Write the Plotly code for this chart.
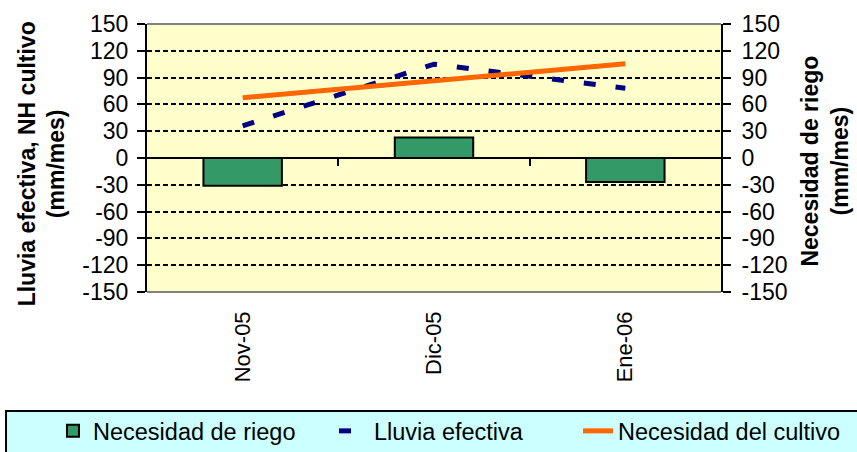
import plotly.graph_objects as go

# Monthly values (mm/mes)
months = ["Nov-05", "Dic-05", "Ene-06"]
necesidad_riego = [-31, 23, -27]
lluvia_efectiva = [36, 105, 78]
necesidad_cultivo = [67.5, 86, 105.5]

y_ticks = [-150, -120, -90, -60, -30, 0, 30, 60, 90, 120, 150]
y_tick_text = [str(v) for v in y_ticks]
boundary_ticks = [0.5, 1.5]

FONT = "Liberation Sans, Arial, sans-serif"

fig = go.Figure()

fig.add_trace(go.Bar(
    x=months, y=necesidad_riego, name="Necesidad de riego",
    marker=dict(color="#339966", line=dict(color="black", width=2)),
    yaxis="y2", legendwidth=236, legend="legend",
))
fig.add_trace(go.Scatter(
    x=months, y=lluvia_efectiva, name="Lluvia efectiva", mode="lines",
    line=dict(color="#000080", width=5, dash="12px,20px"),
    legend="legend",
))
fig.add_trace(go.Scatter(
    x=months, y=necesidad_cultivo, name="Necesidad del cultivo", mode="lines",
    line=dict(color="#FF6600", width=5), legend="legend2",
))

axis_common = dict(
    range=[-150, 150], tickvals=y_ticks, ticktext=y_tick_text,
    ticks="outside", ticklen=8, tickwidth=2, tickcolor="black",
    showline=True, linecolor="black", linewidth=2,
    tickfont=dict(family=FONT, size=23, color="black"),
)

legend_common = dict(
    orientation="h", xanchor="left", y=-0.519, yanchor="middle",
    bgcolor="rgba(0,0,0,0)", itemwidth=30,
    font=dict(family=FONT, size=23.5, color="black"),
)

fig.update_layout(
    width=857, height=452,
    margin=dict(l=147, r=136, t=24, b=160, autoexpand=False),
    paper_bgcolor="white", plot_bgcolor="#FFFFCC",
    font=dict(family=FONT, size=22, color="black"),
    bargap=0.59,
    xaxis=dict(
        type="category", showline=False, ticks="", showgrid=False,
        tickangle=-90, ticklabelstandoff=14,
        tickfont=dict(family=FONT, size=22, color="black"),
    ),
    xaxis2=dict(
        overlaying="x", anchor="free", position=0.5, range=[-0.5, 2.5],
        tickvals=boundary_ticks, ticks="outside", ticklen=7, tickwidth=2,
        tickcolor="black", showticklabels=False, showgrid=False,
        showline=False, zeroline=False,
    ),
    yaxis=dict(
        **axis_common, showgrid=True, gridcolor="black", gridwidth=2,
        griddash="5px,3px", zeroline=True, zerolinecolor="black",
        zerolinewidth=2, ticklabelstandoff=4,
    ),
    yaxis2=dict(
        **axis_common, overlaying="y", side="right", showgrid=False,
        zeroline=False, ticklabelstandoff=6,
    ),
    showlegend=True,
    legend=dict(**legend_common, x=-0.1638),
    legend2=dict(**legend_common, x=0.7509),
    shapes=[
        # legend frame
        dict(type="rect", xref="paper", yref="paper", x0=-0.2456, x1=1.27,
             y0=-0.444, y1=-0.70, line=dict(color="black", width=2),
             fillcolor="#CCFFFF", layer="below"),
        # top and bottom plot border
        dict(type="line", xref="paper", yref="paper", x0=0, x1=1, y0=1, y1=1,
             line=dict(color="#808080", width=2), layer="above"),
        dict(type="line", xref="paper", yref="paper", x0=0, x1=1, y0=0, y1=0,
             line=dict(color="#808080", width=2), layer="above"),
    ],
    annotations=[
        dict(text="<b>Lluvia efectiva, NH cultivo<br>(mm/mes)</b>",
             xref="paper", yref="paper", x=-0.183, y=0.48, textangle=-90,
             xanchor="center", yanchor="middle", showarrow=False,
             font=dict(family=FONT, size=23, color="black")),
        dict(text="<b>Necesidad de riego<br>(mm/mes)</b>",
             xref="paper", yref="paper", x=1.181, y=0.49, textangle=-90,
             xanchor="center", yanchor="middle", showarrow=False,
             font=dict(family=FONT, size=23, color="black")),
    ],
)

# invisible helper trace so the boundary tick axis is rendered
fig.add_trace(go.Scatter(x=[0], y=[0], xaxis="x2", mode="markers",
                         marker=dict(opacity=0), showlegend=False,
                         hoverinfo="skip"))

fig.write_html("out.html")
